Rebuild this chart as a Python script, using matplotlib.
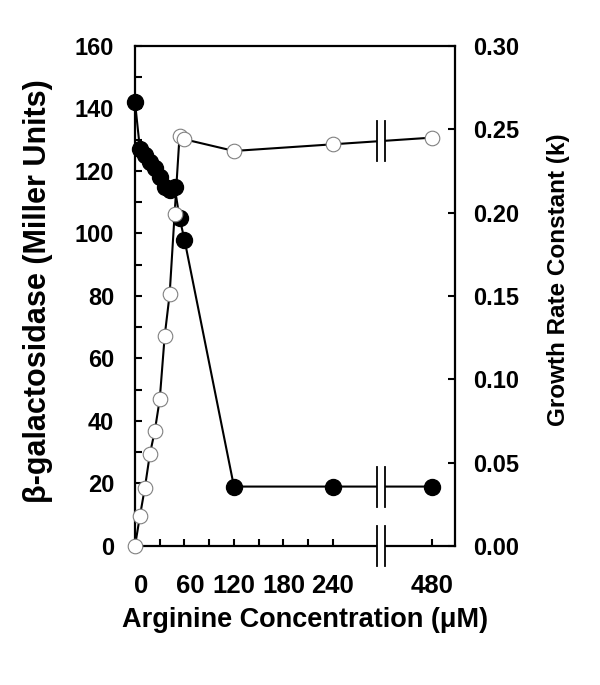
import matplotlib
matplotlib.use('Agg')
import matplotlib.pyplot as plt
import matplotlib.transforms as mtransforms
import numpy as np

plt.rcParams['font.family'] = ['Liberation Sans', 'DejaVu Sans']
plt.rcParams['font.weight'] = 'bold'


# Data

conc = [0, 6, 12, 18, 24, 30, 36, 42, 48, 54, 60, 120, 240, 480]
beta_gal = [142, 127, 125, 123, 121, 118, 115, 114, 115, 105, 98, 19, 19, 19]
growth_k = [0.0, 0.018, 0.035, 0.055, 0.069, 0.088, 0.126, 0.151, 0.199,
            0.246, 0.244, 0.237, 0.241, 0.245]

x_ticks = [0, 60, 120, 180, 240, 480]
x_minor = [30, 90, 150, 210]


# broken x axis: everything past 240 is pulled back by 120
def xpos(v):
    v = np.asarray(v, dtype=float)
    return np.where(v <= 240, v, v - 120)


brk_c = 298   # centre of the break (axis units)
brk_h = 5     # half gap

fig = plt.figure(figsize=(6, 6.85), dpi=100)
ax = fig.add_axes([0.225, 0.203, 0.5333, 0.7299])
ax2 = ax.twinx()

xp = xpos(conc)
ax.plot(xp, beta_gal, color='black', lw=1.5, marker='o', ms=11.5,
        mfc='black', mec='black', clip_on=False, zorder=3)
ax2.plot(xp, growth_k, color='black', lw=1.5, marker='o', ms=10.5,
         mfc='white', mec='#808080', mew=0.8, clip_on=False, zorder=3)

ax.set_xlim(0, 388)
ax.set_ylim(0, 160)
ax2.set_ylim(0, 0.30)

# spines only on the first axes
for s in ax.spines.values():
    s.set_linewidth(1.6)
for s in ax2.spines.values():
    s.set_visible(False)

ax.set_xticks(xpos(x_ticks))
ax.set_xticklabels([str(t) for t in x_ticks])
ax.set_xticks(x_minor, minor=True)
ax.set_yticks(np.arange(0, 161, 20))
ax.set_yticks(np.arange(10, 160, 20), minor=True)
ax2.set_yticks(np.arange(0, 0.301, 0.05))
ax2.set_yticklabels(['%.2f' % t for t in np.arange(0, 0.301, 0.05)])

ax.tick_params(axis='both', which='both', direction='in', length=5,
               width=1.5)
ax.tick_params(axis='y', which='both', right=False, pad=15, labelsize=17)
ax.tick_params(axis='x', which='both', top=False, pad=20, labelsize=18.5)
ax2.tick_params(axis='y', direction='in', length=5, width=1.5,
                labelsize=17, pad=13)

# nudge the "0" and "60" labels right like in the original
for lab in ax.get_xticklabels()[:2]:
    lab.set_transform(lab.get_transform() +
                      mtransforms.ScaledTranslation(6 / 100, 0, fig.dpi_scale_trans))

ax.set_xlabel('Arginine Concentration (\u03bcM)', fontsize=19.5, fontweight='bold')
ax.set_ylabel('\u03b2-galactosidase (Miller Units)', fontsize=22, fontweight='bold')
ax2.set_ylabel('Growth Rate Constant (k)', fontsize=17.5, fontweight='bold',
               rotation=90)
ax.xaxis.set_label_coords(0.531, -0.148)
ax.xaxis.label.set_va('center')
ax.yaxis.set_label_coords(-0.303, 0.51)
ax.yaxis.label.set_va('center')
ax2.yaxis.set_label_coords(1.322, 0.532)
ax2.yaxis.label.set_va('center')

# break marks: white gap + two vertical bars on each line and on the x axis
y_open_brk = np.interp(brk_c, xp, growth_k)
y_fill_brk = np.interp(brk_c, xp, beta_gal)
breaks = [(ax.transData, y_fill_brk, 6.4), (ax2.transData, y_open_brk, 0.012),
          (ax.transData, 0, 6.4)]
for tr, yc, hh in breaks:
    ax2.fill_between([brk_c - brk_h, brk_c + brk_h], yc - hh / 3, yc + hh / 3,
                     color='white', transform=tr, clip_on=False, zorder=5, lw=0)
    for xb in (brk_c - brk_h, brk_c + brk_h):
        ax2.plot([xb, xb], [yc - hh, yc + hh], color='black', lw=1.3,
                 transform=tr, clip_on=False, zorder=6)

fig.savefig('out.png', dpi=100)
